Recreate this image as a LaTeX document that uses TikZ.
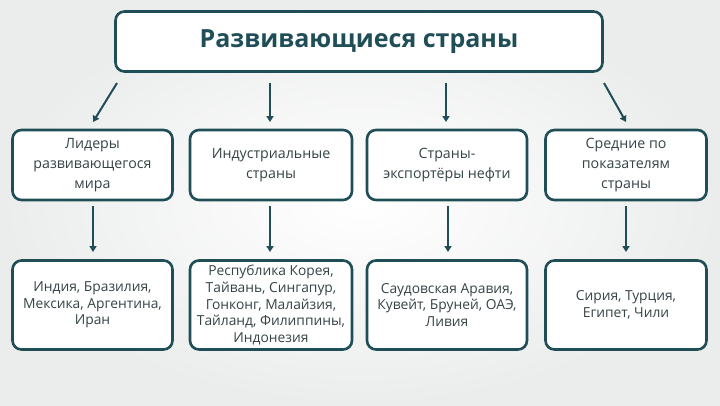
\documentclass[tikz,border=0pt]{standalone}
\usepackage{fontspec}
\setmainfont{Open Sans}
\usetikzlibrary{arrows.meta}
\definecolor{teal1}{HTML}{1F4E57}
\definecolor{txt}{HTML}{364346}
\definecolor{bgout}{HTML}{EBEDEC}
\tikzset{
  box/.style={draw=teal1, line width=2.6pt, rounded corners=9pt, fill=white, align=center, text=txt, font=\fontsize{14.2}{20}\selectfont, inner sep=0pt},
  lowbox/.style={box, font=\fontsize{13.8}{16.6}\selectfont},
  arr/.style={draw=teal1, line width=2pt, -{Triangle[length=6pt,width=7pt]}},
}
\begin{document}
\begin{tikzpicture}[x=1pt,y=-1pt]
\shade[inner color=white, outer color=bgout] (0,0) rectangle (720,405);
\useasboundingbox (0,0) rectangle (720,405);
\node[box, minimum width=487pt, minimum height=60pt, font=\fontsize{25}{28}\bfseries\selectfont, text=teal1] (top) at (359,41.5) {Развивающиеся страны};
% row 1
\node[box, minimum width=160pt, minimum height=70pt] (a1) at (92.5,165) {Лидеры\\развивающегося\\мира};
\node[box, minimum width=162pt, minimum height=70pt] (a2) at (271,165) {Индустриальные\\страны};
\node[box, minimum width=160pt, minimum height=70pt] (a3) at (447,165) {Страны-\\экспортёры нефти};
\node[box, minimum width=161pt, minimum height=70pt] (a4) at (626,165) {Средние по\\показателям\\страны};
% row 2
\node[lowbox, minimum width=160pt, minimum height=89pt] (b1) at (92.5,305) {Индия, Бразилия,\\Мексика, Аргентина,\\Иран};
\node[lowbox, minimum width=162pt, minimum height=89pt] (b2) at (271,305) {Республика Корея,\\Тайвань, Сингапур,\\Гонконг, Малайзия,\\Тайланд, Филиппины,\\Индонезия};
\node[lowbox, minimum width=160pt, minimum height=89pt] (b3) at (447,305) {Саудовская Аравия,\\Кувейт, Бруней, ОАЭ,\\Ливия};
\node[lowbox, minimum width=161pt, minimum height=89pt] (b4) at (626,305) {Сирия, Турция,\\Египет, Чили};
% arrows top
\coordinate (s1) at (117,83);
\coordinate (e1) at (93,122);
\coordinate (s2) at (270,83);
\coordinate (e2) at (270,122);
\coordinate (s3) at (446,83);
\coordinate (e3) at (446,122);
\coordinate (s4) at (604,83);
\coordinate (e4) at (626,122);
\draw[arr] (s1) -- (e1);
\draw[arr] (s2) -- (e2);
\draw[arr] (s3) -- (e3);
\draw[arr] (s4) -- (e4);
% arrows lower
\coordinate (t1) at (93,206);   \coordinate (u1) at (93,252);
\coordinate (t2) at (270,206);  \coordinate (u2) at (270,252);
\coordinate (t3) at (448,206);  \coordinate (u3) at (448,252);
\coordinate (t4) at (626,206);  \coordinate (u4) at (626,252);
\draw[arr] (t1) -- (u1);
\draw[arr] (t2) -- (u2);
\draw[arr] (t3) -- (u3);
\draw[arr] (t4) -- (u4);
\end{tikzpicture}
\end{document}
